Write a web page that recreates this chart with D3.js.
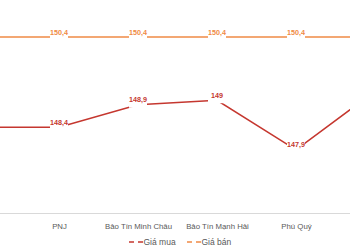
<!DOCTYPE html>
<html>
<head>
<meta charset="utf-8">
<script src="https://cdn.jsdelivr.net/npm/d3@7"></script>
<style>
html,body{margin:0;padding:0;background:#fff;overflow:hidden;}
svg{display:block;}
</style>
</head>
<body>
<script>
const categories = ["SJC", "PNJ", "Bảo Tín Minh Châu", "Bảo Tín Mạnh Hải", "Phú Quý", "DOJI"];
const buyValues = [148.4, 148.4, 148.9, 149, 147.9, 149.2];
const sellValues = [150.4, 150.4, 150.4, 150.4, 150.4, 150.4];
const seriesNames = ["Giá mua", "Giá bán"];
const seriesColors = ["#c5372f", "#ef8a45"];

const W = 350, H = 250;
const svg = d3.select("body").append("svg").attr("width", W).attr("height", H);

const x = d3.scalePoint().domain(categories).range([-20, 375]);
const y = d3.scaleLinear().domain([146.5, 151]).range([213, 10]);

const inView = c => x(c) > 0 && x(c) < W;

// axis baseline and category labels
const xAxis = d3.axisBottom(x).tickSize(0).tickPadding(10).tickValues(categories.filter(inView));
const gx = svg.append("g").attr("transform", "translate(0,213)").call(xAxis);
gx.select(".domain").remove();
svg.append("line").attr("x1", 0).attr("x2", W).attr("y1", 213.5).attr("y2", 213.5)
  .attr("stroke", "#d9d9d9").attr("stroke-width", 1);
gx.selectAll("text").attr("font-family", "Liberation Sans, Arial, sans-serif")
  .attr("font-size", 7.8).attr("fill", "#595959");

const series = [buyValues, sellValues];
const line = d3.line().x((d, i) => x(categories[i])).y(d => y(d));

series.forEach((vals, s) => {
  svg.append("path").datum(vals).attr("d", line)
    .attr("fill", "none").attr("stroke", seriesColors[s]).attr("stroke-width", 1.6);
});

series.forEach((vals, s) => {
  const g = svg.append("g");
  vals.forEach((v, i) => {
    if (!inView(categories[i])) return;
    const cx = x(categories[i]), cy = y(v);
    const label = String(v).replace(".", ",");
    g.append("rect").attr("x", cx - 9).attr("y", cy - 10).attr("width", 18).attr("height", 13)
      .attr("fill", "#fff");
    g.append("text").attr("x", cx).attr("y", cy - 2.5).attr("text-anchor", "middle")
      .attr("font-family", "Liberation Sans, Arial, sans-serif").attr("font-weight", "bold")
      .attr("font-size", 7.2).attr("fill", seriesColors[s]).text(label);
  });
});

// legend
const legendItems = [{x: 129, name: seriesNames[0], c: seriesColors[0]}, {x: 187, name: seriesNames[1], c: seriesColors[1]}];
legendItems.forEach(it => {
  svg.append("line").attr("x1", it.x).attr("x2", it.x + 14).attr("y1", 242).attr("y2", 242)
    .attr("stroke", it.c).attr("stroke-width", 1.6).attr("stroke-dasharray", "5,4");
  svg.append("text").attr("x", it.x + 14.5).attr("y", 245)
    .attr("font-family", "Liberation Sans, Arial, sans-serif").attr("font-size", 8.5)
    .attr("fill", "#595959").text(it.name);
});
</script>
</body>
</html>
